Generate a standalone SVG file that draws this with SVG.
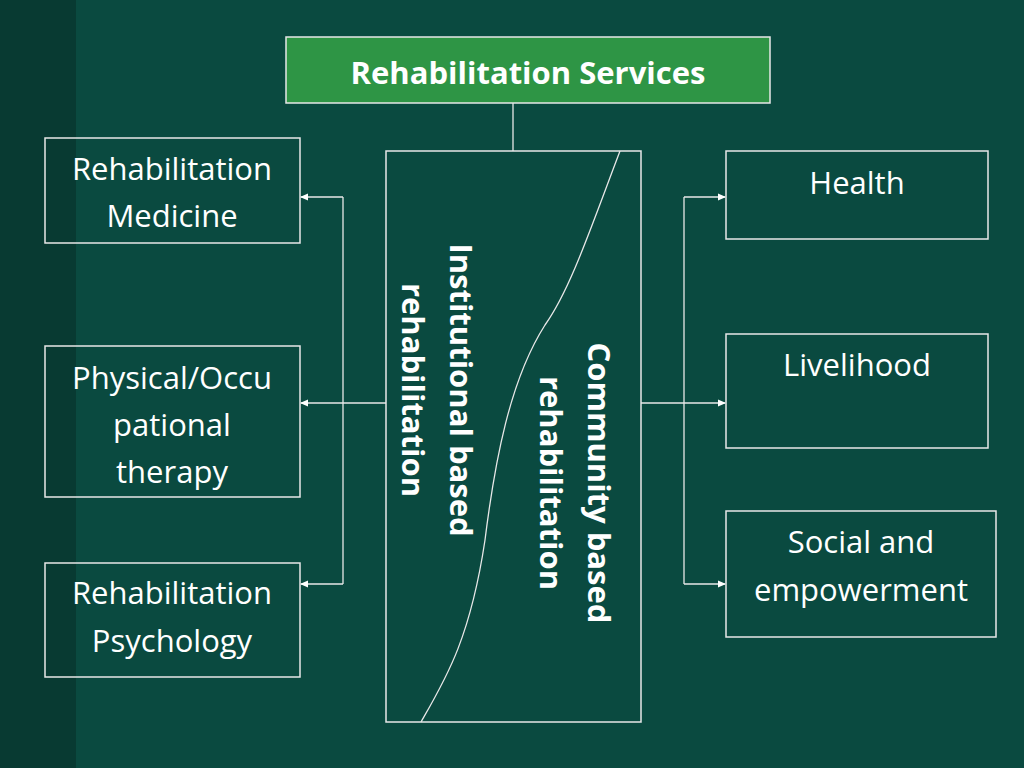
<svg xmlns="http://www.w3.org/2000/svg" width="1024" height="768" viewBox="0 0 1024 768">
<style>
.b{fill:none;stroke:#e8e8e8;stroke-width:1.5}
.t{fill:#fff;font-family:"Open Sans","Liberation Sans",sans-serif;font-size:31px;text-anchor:middle}
.v{fill:#fff;font-family:"Open Sans","Liberation Sans",sans-serif;font-size:31px;font-weight:bold;text-anchor:middle}
.c{fill:none;stroke:#e8e8e8;stroke-width:1.3}
</style>
<defs><marker id="a" markerWidth="8" markerHeight="8" refX="7" refY="4" orient="auto" markerUnits="userSpaceOnUse"><path d="M0,0.5 L8,4 L0,7.5 Z" fill="#fff"/></marker></defs>
<rect width="1024" height="768" fill="#0a4a40"/>
<rect width="76" height="768" fill="#083a32"/>
<g id="title"><rect x="286" y="37" width="484" height="66" fill="#2e9545" stroke="#e8e8e8" stroke-width="1.5"/><text x="528" y="84" class="v" font-size="35">Rehabilitation Services</text></g>
<g id="center"><rect x="386" y="151" width="255" height="571" class="b"/>
<path d="M620,151 C590,230 570,290 545,325 C510,380 495,460 485,540 C470,640 445,680 421,722" class="c"/>
<text transform="translate(450,390) rotate(90)" class="v">Institutional based</text>
<text transform="translate(402,390) rotate(90)" class="v">rehabilitation</text>
<text transform="translate(588,483) rotate(90)" class="v">Community based</text>
<text transform="translate(540,483) rotate(90)" class="v">rehabilitation</text></g>
<g id="n1"><rect x="45" y="138" width="255" height="105" class="b"/><text x="172" y="180" class="t">Rehabilitation</text><text x="172" y="227" class="t">Medicine</text></g>
<g id="n2"><rect x="45" y="346" width="255" height="151" class="b"/><text x="172" y="389" class="t">Physical/Occu</text><text x="172" y="436" class="t">pational</text><text x="172" y="483" class="t">therapy</text></g>
<g id="n3"><rect x="45" y="563" width="255" height="114" class="b"/><text x="172" y="604" class="t">Rehabilitation</text><text x="172" y="652" class="t">Psychology</text></g>
<g id="n4"><rect x="726" y="151" width="262" height="88" class="b"/><text x="857" y="194" class="t">Health</text></g>
<g id="n5"><rect x="726" y="334" width="262" height="114" class="b"/><text x="857" y="376" class="t">Livelihood</text></g>
<g id="n6"><rect x="726" y="511" width="270" height="126" class="b"/><text x="861" y="553" class="t">Social and</text><text x="861" y="601" class="t">empowerment</text></g>
<g id="connectors">
<path d="M513,103 V151" class="c"/>
<path d="M343,197 V584" class="c"/>
<path d="M343,197 H301" class="c" marker-end="url(#a)"/>
<path d="M386,403 H301" class="c" marker-end="url(#a)"/>
<path d="M343,584 H301" class="c" marker-end="url(#a)"/>
<path d="M684,197 V584" class="c"/>
<path d="M684,197 H725" class="c" marker-end="url(#a)"/>
<path d="M641,403 H725" class="c" marker-end="url(#a)"/>
<path d="M684,584 H725" class="c" marker-end="url(#a)"/>
</g>
</svg>
